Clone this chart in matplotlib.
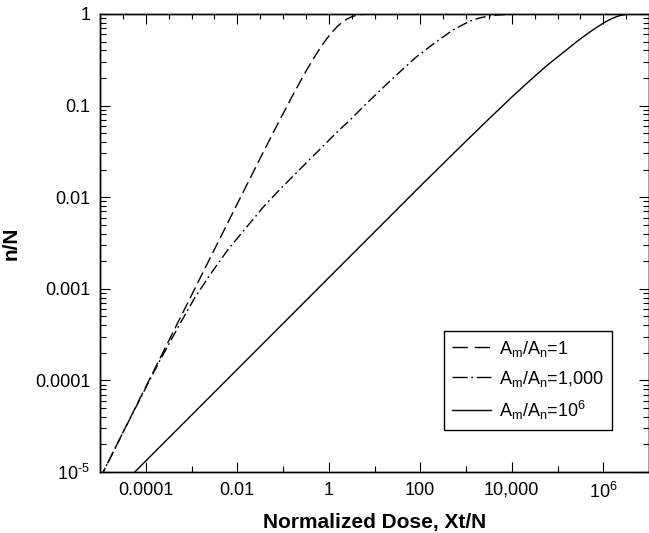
import matplotlib
matplotlib.use("Agg")
import matplotlib.pyplot as plt
from matplotlib.ticker import FixedLocator, FixedFormatter, LogLocator, NullFormatter

plt.rcParams['font.family'] = ['Liberation Sans', 'DejaVu Sans']
plt.rcParams['mathtext.fontset'] = 'custom'
plt.rcParams['mathtext.rm'] = 'Liberation Sans'
plt.rcParams['mathtext.it'] = 'Liberation Sans'
plt.rcParams['mathtext.bf'] = 'Liberation Sans:bold'
plt.rcParams['mathtext.default'] = 'regular'

# ---- data ----
dose_r1 = [1e-5, 1e-4, 1e-3, 3.16e-3, 0.01, 0.0316, 0.0562, 0.1, 0.126, 0.158, 0.2,
           0.251, 0.316, 0.398, 0.501, 0.631, 0.794, 1.0, 1.26, 1.58, 2.0, 2.51,
           3.16, 3.98, 5.0, 6.3, 7.9, 10, 1e7]
frac_r1 = [8.5e-6, 8.5e-5, 8.5e-4, 2.68e-3, 8.46e-3, 0.0265, 0.0467, 0.0815, 0.101,
           0.126, 0.156, 0.192, 0.236, 0.287, 0.347, 0.415, 0.491, 0.573, 0.657,
           0.74, 0.817, 0.882, 0.932, 0.966, 0.986, 0.995, 0.999, 1.0, 1.0]

dose_r1000 = [1e-5, 3.16e-5, 1e-4, 2e-4, 5.62e-4, 1.17e-3, 2.51e-3, 6.31e-3, 0.0158,
              0.0398, 0.1, 0.251, 0.631, 1.585, 2.82, 6.0, 20, 39.8, 79.4, 158,
              316, 501, 794, 1259, 1995, 3162, 5012, 1e4, 2e4, 1e7]
frac_r1000 = [8.5e-6, 2.69e-5, 8.3e-5, 1.62e-4, 4.17e-4, 7.94e-4, 1.41e-3, 2.69e-3,
              4.68e-3, 8.13e-3, 0.0132, 0.0209, 0.0331, 0.0525, 0.0684, 0.1, 0.178,
              0.245, 0.335, 0.437, 0.562, 0.661, 0.75, 0.841, 0.906, 0.951, 0.977,
              0.993, 1.0, 1.0]

dose_r1e6 = [3.16e-5, 1e-4, 0.01, 1, 100, 1000, 3162, 1e4, 17783, 31623, 56234, 1e5,
             158489, 251189, 398107, 630957, 1e6, 1.26e6, 1.585e6, 2.0e6, 2.51e6,
             3.16e6, 3.98e6, 5.0e6, 1e7]
frac_r1e6 = [7.4e-6, 1.32e-5, 1.32e-4, 1.32e-3, 0.0132, 0.0409, 0.0715, 0.1237, 0.161,
             0.209, 0.269, 0.339, 0.407, 0.490, 0.582, 0.684, 0.794, 0.847, 0.897,
             0.940, 0.971, 0.989, 0.998, 1.0, 1.0]

labels = ['A$_m$/A$_n$=1', 'A$_m$/A$_n$=1,000', 'A$_m$/A$_n$=10$^6$']

x_major = [1e-4, 1e-2, 1, 1e2, 1e4, 1e6]
x_major_labels = ['0.0001', '0.01', '1', '100', '10,000', '10$^6$']
x_minor = [1e-3, 1e-1, 10, 1e3, 1e5]
y_major = [1e-5, 1e-4, 1e-3, 1e-2, 1e-1, 1]
y_major_labels = ['10$^{\u20105}$', '0.0001', '0.001', '0.01', '0.1', '1']

# ---- figure ----
W, H = 649, 533
fig = plt.figure(figsize=(W / 100, H / 100), dpi=100)
ax = fig.add_axes([100 / W, (H - 472) / H, (W - 100) / W, 458 / H])

lw = 1.0
ax.plot(dose_r1, frac_r1, color='black', lw=lw, linestyle=(0, (8.5, 3.6)), label=labels[0])
ax.plot(dose_r1000, frac_r1000, color='black', lw=lw, linestyle=(0, (7.5, 2.6, 1.3, 2.6)), label=labels[1])
ax.plot(dose_r1e6, frac_r1e6, color='black', lw=lw, linestyle='-', label=labels[2])

ax.set_xscale('log')
ax.set_yscale('log')
ax.set_xlim(1e-5, 1e7)
ax.set_ylim(1e-5, 1)

ax.xaxis.set_major_locator(FixedLocator(x_major))
ax.xaxis.set_major_formatter(FixedFormatter(x_major_labels))
ax.xaxis.set_minor_locator(FixedLocator(x_minor))
ax.xaxis.set_minor_formatter(NullFormatter())
ax.yaxis.set_major_locator(FixedLocator(y_major))
ax.yaxis.set_major_formatter(FixedFormatter(y_major_labels))
ax.yaxis.set_minor_locator(LogLocator(base=10, subs=[2, 3, 4, 5, 6, 7, 8, 9], numticks=20))
ax.yaxis.set_minor_formatter(NullFormatter())

ax.tick_params(axis='both', which='both', direction='in', width=0.8, labelsize=13, pad=7)
ax.tick_params(axis='both', which='major', length=7)
ax.tick_params(axis='both', which='minor', length=4.3)
ax.tick_params(axis='x', which='both', top=False, bottom=True)
ax.tick_params(axis='y', which='both', left=True, right=True)

for sp in ax.spines.values():
    sp.set_linewidth(1.0)

# top axis ticks (half-decade spacing)
ax2 = ax.twiny()
ax2.set_xscale('log')
ax2.set_xlim(ax.get_xlim())
top_minor = [10 ** (k / 2) for k in range(-9, 14) if k % 4 != 0]
ax2.xaxis.set_major_locator(FixedLocator(x_major))
ax2.xaxis.set_major_formatter(NullFormatter())
ax2.xaxis.set_minor_locator(FixedLocator(top_minor))
ax2.xaxis.set_minor_formatter(NullFormatter())
ax2.tick_params(axis='x', which='both', direction='in', top=True, bottom=False,
                labeltop=False, width=0.8)
ax2.tick_params(axis='x', which='major', length=7)
ax2.tick_params(axis='x', which='minor', length=3.6)
for sp in ax2.spines.values():
    sp.set_linewidth(1.0)

ax.set_xlabel('Normalized Dose, Xt/N', fontsize=15, fontweight='bold', labelpad=8)
ax.set_ylabel('n/N', fontsize=15, fontweight='bold', labelpad=10)

leg = ax.legend(loc='upper left', bbox_to_anchor=(443.5 / W, 1 - 330.5 / H),
                bbox_transform=fig.transFigure, borderaxespad=0, fontsize=13,
                frameon=True, fancybox=False, edgecolor='black', framealpha=1,
                handlelength=2.2, handletextpad=0.45, labelspacing=0.55,
                borderpad=0.45)
leg.get_frame().set_linewidth(1.0)
leg_lines = leg.get_lines()
leg_lines[0].set_linestyle((0, (11, 5)))
leg_lines[1].set_linestyle((0, (11, 2.5, 1.3, 2.5)))

fig.savefig('out.png', dpi=100)
